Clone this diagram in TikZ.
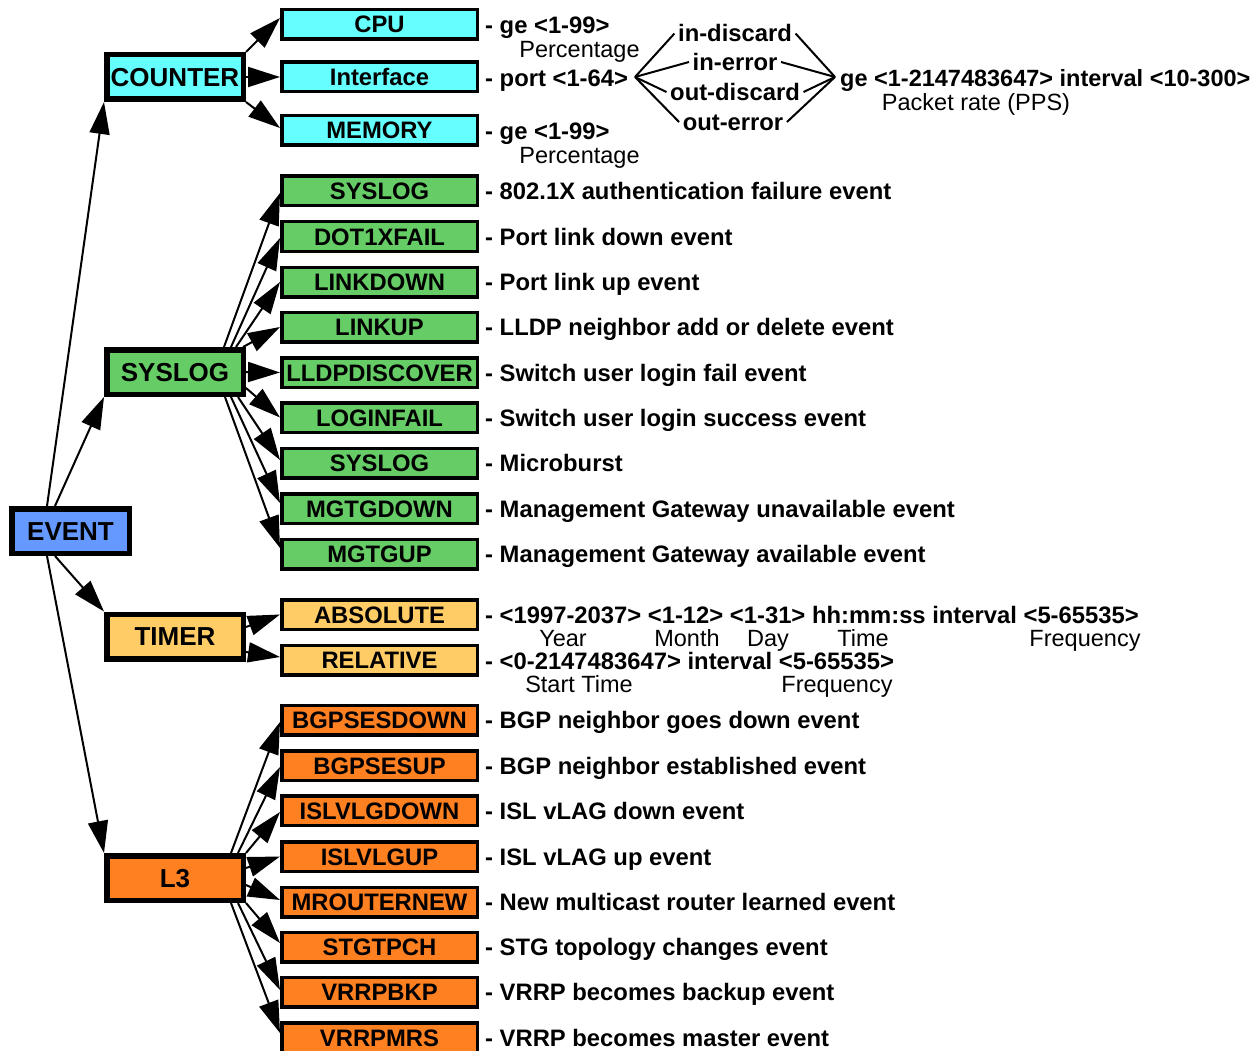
\documentclass[tikz,border=0pt]{standalone}
\usepackage{fontspec}
\setmainfont{Liberation Sans}
\usetikzlibrary{arrows.meta}
\definecolor{ccyan}{HTML}{66FFFF}
\definecolor{cgreen}{HTML}{66CC66}
\definecolor{cyellow}{HTML}{FFCC66}
\definecolor{corange}{HTML}{FF8020}
\definecolor{cblue}{HTML}{6699FF}
\begin{document}
\begin{tikzpicture}[x=1pt,y=-1pt,
  parent/.style={draw, line width=5.5pt, minimum width=136.5pt, minimum height=44.5pt, inner sep=0pt,
    font=\fontsize{26}{30}\selectfont\bfseries, text height=18.6pt, text depth=0pt},
  child/.style={draw, line width=3.5pt, minimum width=195.5pt, minimum height=29.5pt, inner sep=0pt,
    font=\fontsize{23.8}{28}\selectfont\bfseries, text height=17pt, text depth=0pt},
  desc/.style={anchor=west, inner sep=0pt, font=\fontsize{23.8}{28}\selectfont\bfseries, text height=17pt, text depth=0pt},
  sub/.style={inner sep=0pt, font=\fontsize{23.5}{28}\selectfont, text height=17pt, text depth=0pt},
  opt/.style={inner xsep=3.5pt, inner ysep=0pt, font=\fontsize{23.8}{28}\selectfont\bfseries, text height=17pt, text depth=0pt},
  arr/.style={line width=2pt, -{Triangle[length=32pt,width=20pt]}},
  ln/.style={line width=2pt}
]
\useasboundingbox (0,0) rectangle (1258,1051);

% parents
\node[parent, fill=cblue, minimum width=117.5pt] (event) at (70.5,531) {EVENT};
\node[parent, fill=ccyan] (counter) at (175,77) {COUNTER};
\node[parent, fill=cgreen] (sys) at (175,372) {SYSLOG};
\node[parent, fill=cyellow] (timer) at (175,636.5) {TIMER};
\node[parent, fill=corange] (l3) at (175,878) {L3};

% counter children
\node[child, fill=ccyan] (cpu) at (379.5,24.5) {CPU};
\node[child, fill=ccyan] (intf) at (379.5,77) {Interface};
\node[child, fill=ccyan] (mem) at (379.5,130.5) {MEMORY};
\node[desc] (dcpu) at (485,25) {- ge <1-99>};
\node[sub] (pcpu) at (579.5,49) {Percentage};
\node[desc] (dintf) at (485,78) {- port <1-64>};
\node[desc] (dmem) at (485,131) {- ge <1-99>};
\node[sub] (pmem) at (579.5,155) {Percentage};

\coordinate (L) at (635,77);
\coordinate (R) at (835,77);
\node[opt] (o1) at (735,33.5) {in-discard};
\node[opt] (o2) at (735,62) {in-error};
\node[opt] (o3) at (735,92) {out-discard};
\node[opt] (o4) at (733,122) {out-error};
\foreach \o in {o1,o2,o3,o4} {
  \draw[ln] (L) -- (\o.west);
  \draw[ln] (\o.east) -- (R);
}
\node[desc, font=\fontsize{23.5}{28}\selectfont\bfseries] (ge) at (840,78) {ge <1-2147483647> interval <10-300>};
\node[sub] (pps) at (976,102) {Packet rate (PPS)};

% syslog children
\foreach \n/\y/\t/\d in {
  1/191/SYSLOG/802.1X authentication failure event,
  2/236.5/DOT1XFAIL/Port link down event,
  3/282/LINKDOWN/Port link up event,
  4/327/LINKUP/LLDP neighbor add or delete event,
  5/372.5/LLDPDISCOVER/Switch user login fail event,
  6/417.5/LOGINFAIL/Switch user login success event,
  7/463/SYSLOG/Microburst,
  8/508.5/MGTGDOWN/Management Gateway unavailable event,
  9/554/MGTGUP/Management Gateway available event} {
  \node[child, fill=cgreen] (g\n) at (379.5,\y) {\t};
  \node[desc] (gd\n) at (485,\y) {- \d};
}

% timer children
\node[child, fill=cyellow] (abs) at (379.5,614.5) {ABSOLUTE};
\node[child, fill=cyellow] (rel) at (379.5,660) {RELATIVE};
\node[desc] (dabs) at (485,615) {- <1997-2037> <1-12> <1-31> hh:mm:ss interval <5-65535>};
\node[sub] (year) at (563,638) {Year};
\node[sub] (month) at (687,638) {Month};
\node[sub] (day) at (768,638) {Day};
\node[sub] (time) at (863,638) {Time};
\node[sub] (freq1) at (1085,638) {Frequency};
\node[desc] (drel) at (485,660.5) {- <0-2147483647> interval <5-65535>};
\node[sub] (start) at (579,684) {Start Time};
\node[sub] (freq2) at (837,684) {Frequency};

% l3 children
\foreach \n/\y/\t/\d in {
  1/720/BGPSESDOWN/BGP neighbor goes down event,
  2/765.5/BGPSESUP/BGP neighbor established event,
  3/810.5/ISLVLGDOWN/ISL vLAG down event,
  4/856.5/ISLVLGUP/ISL vLAG up event,
  5/902/MROUTERNEW/New multicast router learned event,
  6/947/STGTPCH/STG topology changes event,
  7/992/VRRPBKP/VRRP becomes backup event,
  8/1037.5/VRRPMRS/VRRP becomes master event} {
  \node[child, fill=corange] (r\n) at (379.5,\y) {\t};
  \node[desc] (rd\n) at (485,\y) {- \d};
}

% event arrows
\draw[arr] ([xshift=-23.5pt]event.north) -- (counter.south west);
\draw[arr] ([xshift=-15.5pt]event.north) -- (sys.south west);
\draw[arr] ([xshift=-15.5pt]event.south) -- (timer.north west);
\draw[arr] ([xshift=-23.5pt]event.south) -- (l3.north west);

% counter arrows
\draw[arr] (counter.north east) -- ([yshift=6.5pt]cpu.west);
\draw[arr] (counter.east) -- (intf.west);
\draw[arr] (counter.south east) -- ([yshift=2.5pt]mem.west);

% syslog arrows
\draw[arr] ([xshift=-22pt]sys.north east) -- ([yshift=-2pt]g1.west);
\draw[arr] ([xshift=-15pt]sys.north east) -- ([yshift=-1.5pt]g2.west);
\draw[arr] ([xshift=-10pt]sys.north east) -- (g3.west);
\draw[arr] ([xshift=-3pt]sys.north east) -- (g4.west);
\draw[arr] (sys.east) -- (g5.west);
\draw[arr] ([yshift=-16pt]sys.east) -- (g6.west);
\draw[arr] ([xshift=-8pt]sys.south east) -- ([yshift=3pt]g7.west);
\draw[arr] ([xshift=-15pt]sys.south east) -- ([yshift=5.5pt]g8.west);
\draw[arr] ([xshift=-21pt]sys.south east) -- ([yshift=6pt]g9.west);

% timer arrows
\draw[arr] ([yshift=9.5pt]timer.east) -- (abs.west);
\draw[arr] ([yshift=-15.5pt]timer.east) -- ([yshift=3pt]rel.west);

% l3 arrows
\draw[arr] ([xshift=-15pt]l3.north east) -- ([yshift=-2pt]r1.west);
\draw[arr] ([xshift=-8pt]l3.north east) -- ([yshift=-1.5pt]r2.west);
\draw[arr] (l3.north east) -- ([yshift=-1.5pt]r3.west);
\draw[arr] ([yshift=10pt]l3.east) -- (r4.west);
\draw[arr] ([yshift=-7pt]l3.east) -- ([yshift=2pt]r5.west);
\draw[arr] (l3.south east) -- ([yshift=4pt]r6.west);
\draw[arr] ([xshift=-8pt]l3.south east) -- ([yshift=2pt]r7.west);
\draw[arr] ([xshift=-15pt]l3.south east) -- ([yshift=4.5pt]r8.west);
\end{tikzpicture}
\end{document}
